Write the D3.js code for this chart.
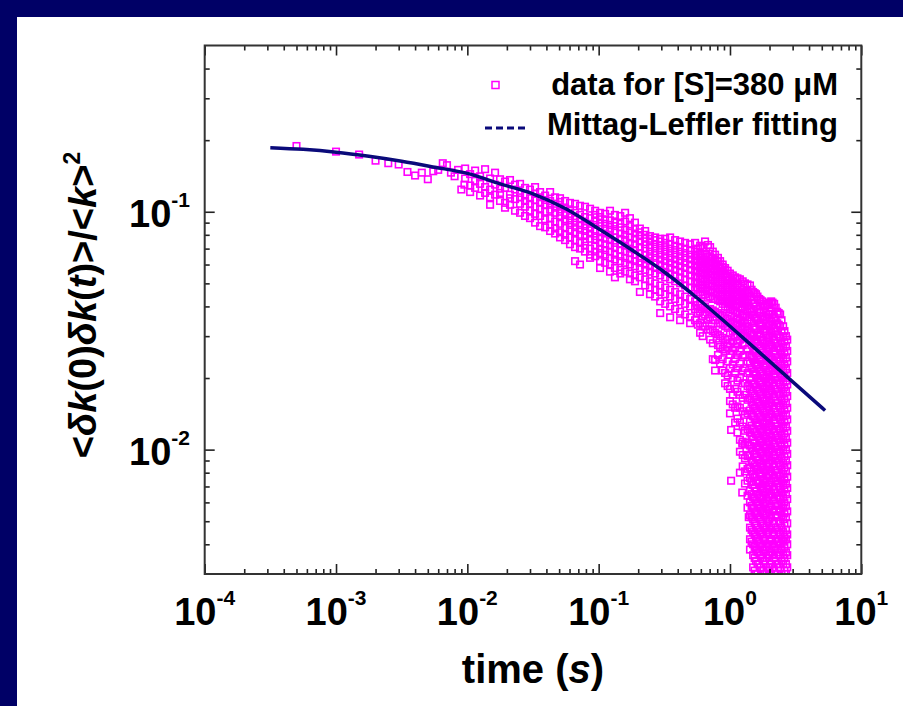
<!DOCTYPE html>
<html><head><meta charset="utf-8">
<script src="https://cdn.jsdelivr.net/npm/d3@7"></script>
<style>
body{margin:0;background:#fff;}
svg{display:block;}
text{font-family:"Liberation Sans",Arial,sans-serif;font-weight:bold;fill:#000;}
</style>
</head><body><svg id="c" width="903" height="706"></svg>
<script>
// ---------- data ----------
const xTickExps = [-4, -3, -2, -1, 0, 1];
const yTickExps = [-2, -1];
const xAxisTitle = "time";
const legendLabels = ["data for [S]=380 \u03BCM", "Mittag-Leffler fitting"];

// Mittag-Leffler fitting curve
const fitT = [0.000316, 0.000562, 0.001, 0.00178, 0.00316, 0.00562, 0.01, 0.0178, 0.0316, 0.0562, 0.1, 0.178, 0.316, 0.562, 1.0, 1.78, 3.16, 5.3];
const fitV = [0.186, 0.183, 0.178, 0.171, 0.163, 0.154, 0.145, 0.131, 0.119, 0.103, 0.0848, 0.0692, 0.0558, 0.0434, 0.0330, 0.0249, 0.0188, 0.0146];

// measured correlation data: [time, [values at that time]]
const scatterGroups = [
 [0.0005,[.189]],[0.001,[.179]],[0.0015,[.174]],[0.002,[.164]],[0.0025,[.160]],[0.003,[.158]],
 [0.0035,[.147]],[0.004,[.142]],[0.0045,[.146]],[0.005,[.137]],[0.0055,[.148]],[0.006,[.150]],
 [0.0065,[.160]],[0.007,[.157]],[0.0075,[.146]],[0.008,[.141]],[0.0085,[.150]],[0.009,[.124]],[0.0095,[.130]],
 [0.00962,[.152,.138]],
 [0.0105,[.144,.129,.121]],
 [0.01146,[.149,.135,.126]],
 [0.0125,[.141,.131,.117]],
 [0.01365,[.151,.127,.120]],
 [0.0149,[.138,.124,.115,.107]],
 [0.01626,[.146,.130,.118]],
 [0.01774,[.137,.125,.111,.120]],
 [0.01936,[.134,.126,.109,.104]],
 [0.02113,[.136,.118,.107,.114]],
 [0.02307,[.130,.124,.113,.101]],
 [0.0252,[.131,.120,.108,.099,.115]],
 [0.0275,[.126,.117,.105,.111,.096]],
 [0.0300,[.124,.114,.101,.094,.108]],
 [0.0328,[.127,.112,.098,.090,.105,.119]],
 [0.0358,[.121,.109,.096,.087,.103,.115]],
 [0.0391,[.117,.107,.093,.086,.100,.112]],
 [0.0427,[.121,.111,.102,.094,.088,.107,.083]],
 [0.0466,[.115,.108,.099,.091,.085,.104,.081]],
 [0.0508,[.114,.105,.096,.089,.082,.100,.078,.110]],
 [0.0555,[.111,.103,.093,.086,.080,.098,.076,.091]],
 [0.0605,[.109,.101,.092,.084,.078,.096,.073,.088]],
 [0.0661,[.108,.099,.090,.082,.076,.094,.071,.086,.062]],
 [0.0721,[.106,.097,.088,.080,.074,.093,.070,.084,.060]],
 [0.0787,[.105,.095,.087,.079,.072,.091,.068,.083,.075]],
 [0.0860,[.103,.094,.085,.077,.070,.089,.066,.081,.064]],
 [0.0940,[.101,.092,.083,.076,.068,.088,.065,.079,.072,.097]],
 [0.1025,[.099,.090,.082,.074,.067,.087,.062,.078,.070,.095,.058]],
 [0.112,[.098,.089,.081,.073,.066,.085,.061,.077,.069,.093]],
 [0.122,[.101,.088,.080,.072,.064,.084,.060,.076,.068,.092,.056]],
 [0.133,[.097,.087,.078,.071,.063,.083,.058,.074,.066,.090,.053]],
 [0.146,[.096,.086,.077,.069,.062,.081,.057,.073,.065,.089,.055]],
 [0.159,[.099,.084,.076,.068,.061,.080,.056,.072,.064,.091]],
 [0.173,[.094,.083,.074,.067,.060,.078,.055,.070,.063,.087,.052]],
 [0.189,[.090,.081,.073,.066,.059,.077,.054,.069,.062,.085,.051]],
 [0.206,[.085,.079,.071,.064,.058,.075,.053,.067,.061,.082,.046]],
 [0.226,[.083,.077,.070,.063,.057,.073,.052,.066,.060,.080,.049]],
 [0.246,[.079,.075,.068,.062,.056,.071,.051,.065,.059,.077,.048,.045]],
 [0.269,[.078,.073,.067,.061,.055,.070,.050,.064,.058,.076,.047,.044]],
 [0.294,[.077,.072,.066,.060,.054,.069,.049,.063,.057,.075,.046,.042,.0375]],
 [0.321,[.077,.071,.065,.059,.053,.068,.048,.062,.056,.074,.045,.041]],
 [0.350,[.078,.070,.064,.058,.052,.067,.047,.061,.055,.073,.044,.040,.036]],
 [0.382,[.076,.069,.063,.057,.051,.066,.046,.060,.054,.072,.043,.039]],
 [0.417,[.075,.068,.062,.056,.050,.065,.045,.059,.053,.071,.042,.038,.035]],
 [0.455,[.074,.067,.061,.055,.049,.064,.044,.058,.052,.070,.041,.037]],
 [0.497,[.073,.066,.060,.054,.048,.063,.043,.057,.051,.069,.040,.036,.034]],
 [0.542,[.074,.065,.059,.053,.047,.062,.042,.056,.050,.068,.039,.035]],
 [0.57,[.070,.0625,.0565,.0505,.045,.0595,.0405,.0535,.048,.066,.0375,.0335]],
 [0.592,[.072,.064,.058,.052,.046,.061,.041,.055,.049,.067,.038,.034,.031]],
 [0.62,[.071,.0615,.0555,.0495,.0445,.0585,.0395,.0525,.0475,.065,.0365,.033,.030]],
 [0.646,[.075,.063,.057,.051,.045,.060,.040,.054,.048,.066,.037,.033]],
 [0.68,[.0725,.061,.055,.049,.0435,.058,.039,.052,.0465,.0645,.0355,.032]],
 [0.706,[.071,.062,.056,.050,.044,.059,.039,.053,.047,.065,.036,.032,.029]],
 [0.74,[.068,.0605,.0545,.0485,.043,.0575,.0385,.0515,.046,.0635,.035,.0315,.028,.024]],
 [0.77,[.066,.060,.054,.049,.043,.057,.038,.051,.046,.063,.035,.031,.0238,.0215]],
 [0.81,[.064,.059,.053,.0475,.0425,.056,.0375,.050,.045,.0615,.034,.0305,.0275,.025]],
 [0.841,[.062,.058,.052,.047,.042,.055,.037,.049,.044,.060,.034,.030,.027,.023]],
 [0.88,[.060,.0565,.051,.046,.041,.054,.0365,.048,.043,.0585,.0335,.0295,.0265,.024,.0215]],
 [0.918,[.058,.055,.050,.045,.040,.053,.036,.047,.042,.057,.033,.029,.026,.021,.019]],
 [0.96,[.0565,.0535,.049,.044,.0395,.0515,.0355,.046,.0415,.0325,.029,.027,.0235,.0205,.0185]],
 [1.00,[.055,.052,.048,.043,.039,.050,.035,.045,.041,.034,.031,.028,.025,.022,.018,.016,.0142]],
 [1.02,[.0121,.0074]],
 [1.05,[.054,.051,.047,.0425,.0385,.049,.0345,.0445,.0405,.0315,.0285,.026,.0228,.020,.017,.0155]],
 [1.094,[.053,.050,.046,.042,.038,.048,.034,.044,.040,.032,.030,.027,.024,.021,.018,.015,.013]],
 [1.14,[.0525,.049,.045,.041,.0375,.047,.0335,.043,.0355,.0305,.028,.025,.022,.0195,.0175,.0152,.0135,.0118]],
 [1.19,[.052,.048,.044,.040,.037,.046,.033,.042,.035,.031,.029,.026,.023,.020,.017,.015,.013,.011,.0098,.008]],
 [1.24,[.0106,.0066]],
 [1.25,[.051,.047,.0435,.0395,.0365,.0455,.0325,.0415,.0345,.030,.0275,.0245,.0215,.019,.0165,.0145,.0125,.0108,.0095,.0085]],
 [1.30,[.050,.046,.043,.039,.036,.045,.032,.041,.034,.030,.028,.025,.022,.019,.017,.014,.012,.0105,.0092,.0081,.0072]],
 [1.36,[.0495,.0455,.042,.038,.035,.044,.0315,.040,.033,.0295,.0265,.0235,.021,.0185,.0162,.0142,.0122,.0107,.0094,.0083,.0074,.0064,.0057]],
 [1.39,[.0052]],
 [1.42,[.049,.044,.039,.036,.031,.029,.025,.023,.020,.018,.0165,.0146,.0131,.0118,.0104,.0095,.0084,.0076,.0067,.006,.0053,.0047,.0042,.0038]],
 [1.46,[.047,.0425,.038,.0345,.0305,.0275,.0245,.022,.0196,.0176,.0158,.014,.0126,.0113,.0101,.009,.0081,.0073,.0065,.0058,.0052,.0046,.0041]],
 [1.50,[.046,.041,.037,.033,.030,.026,.024,.0212,.019,.0172,.0153,.0138,.0122,.011,.0099,.0088,.0079,.0071,.0063,.0057,.0051,.0045,.004,.0036,.0032]],
 [1.54,[.0455,.041,.036,.0325,.029,.0262,.0232,.0209,.0188,.0168,.015,.0134,.0119,.0107,.0096,.0086,.0077,.0069,.0062,.0055,.0049,.0044,.0039,.0035,.0031,.0028]],
 [1.58,[.045,.040,.0355,.032,.0285,.0255,.0228,.0205,.0183,.0162,.0146,.0129,.0116,.0103,.0093,.0083,.0074,.0067,.006,.0054,.0048,.0043,.0038,.0034,.003,.0027]],
 [1.62,[.044,.039,.035,.031,.0278,.0249,.0223,.020,.0179,.0159,.0143,.0127,.0114,.0102,.0091,.0082,.0073,.0065,.0059,.0053,.0047,.0042,.0037,.0033,.003,.0027]],
 [1.67,[.043,.038,.034,.0305,.0272,.0243,.0218,.0195,.0175,.0156,.014,.0125,.0112,.010,.009,.008,.0072,.0064,.0058,.0052,.0046,.0041,.0037,.0033,.0029]],
 [1.71,[.0425,.0375,.0335,.0298,.0266,.0239,.0213,.0191,.0171,.0153,.0137,.0122,.011,.0098,.0088,.0079,.007,.0063,.0057,.0051,.0045,.004,.0036,.0032,.0028]],
 [1.76,[.042,.0365,.033,.029,.026,.0235,.0208,.0187,.0166,.0149,.0133,.0119,.0107,.0096,.0086,.0077,.0069,.0062,.0055,.0049,.0044,.0039,.0035,.0031,.0028]],
 [1.80,[.041,.0362,.0322,.0286,.0255,.023,.0204,.0183,.0163,.0146,.013,.0116,.0104,.0094,.0084,.0075,.0067,.006,.0054,.0048,.0043,.0038,.0034,.0031,.0027]],
 [1.85,[.040,.0355,.0315,.028,.025,.0225,.020,.018,.016,.0143,.0128,.0114,.0102,.0092,.0082,.0073,.0066,.0059,.0053,.0047,.0042,.0038,.0034,.003,.0027]],
 [1.90,[.0405,.036,.032,.0288,.0258,.023,.0206,.0185,.0165,.0147,.0132,.0118,.0105,.0094,.0085,.0076,.0068,.0061,.0054,.0048,.0044,.0039,.0035,.0031,.0028]],
 [1.95,[.041,.037,.033,.0295,.0265,.0238,.0212,.019,.017,.0152,.0136,.0121,.0108,.0097,.0087,.0078,.007,.0063,.0056,.005,.0045,.004,.0036,.0032,.0029]],
 [2.00,[.0415,.0372,.0335,.0302,.027,.0241,.0216,.0193,.0173,.0155,.0138,.0124,.011,.0099,.0088,.0079,.0071,.0064,.0057,.0051,.0046,.0041,.0036,.0032,.0029]],
 [2.06,[.042,.038,.0345,.031,.0275,.0245,.022,.0197,.0177,.0158,.0141,.0126,.0113,.0101,.009,.0081,.0073,.0065,.0058,.0052,.0047,.0042,.0037,.0033,.003,.0027]],
 [2.11,[.0415,.037,.0333,.0298,.0267,.0239,.0214,.0191,.0171,.0153,.0137,.0122,.0109,.0098,.0087,.0078,.007,.0063,.0056,.005,.0045,.004,.0036,.0032,.0029]],
 [2.17,[.041,.036,.0325,.029,.026,.0233,.0208,.0186,.0167,.0149,.0133,.0119,.0106,.0095,.0085,.0076,.0068,.0061,.0055,.0049,.0044,.0039,.0035,.0031,.0028]],
 [2.23,[.0395,.035,.0315,.0281,.0252,.0225,.0202,.018,.0161,.0144,.0129,.0115,.0103,.0092,.0082,.0074,.0066,.0059,.0053,.0047,.0042,.0038,.0034,.003,.0027]],
 [2.29,[.038,.034,.0305,.0272,.0244,.0218,.0196,.0175,.0157,.014,.0125,.0112,.010,.009,.008,.0072,.0064,.0058,.0052,.0046,.0041,.0037,.0033,.003,.0027]],
 [2.35,[.0375,.0335,.030,.0267,.024,.0214,.0192,.0171,.0153,.0137,.0122,.011,.0098,.0088,.0078,.007,.0063,.0056,.005,.0045,.0041,.0036,.0033,.0029]],
 [2.41,[.037,.033,.0295,.0262,.0235,.021,.0188,.0168,.015,.0134,.012,.0107,.0096,.0086,.0077,.0069,.0062,.0055,.0049,.0044,.004,.0036,.0032,.0029]],
 [2.47,[.035,.0314,.0281,.025,.0225,.0201,.018,.0161,.0144,.0128,.0115,.0103,.0092,.0082,.0074,.0066,.0059,.0053,.0047,.0042,.0038,.0034,.003,.0027]],
 [2.54,[.033,.0298,.0268,.024,.0215,.0192,.0172,.0154,.0138,.0123,.011,.0099,.0088,.0079,.0071,.0063,.0057,.0051,.0045,.0041,.0036,.0033,.0029,.0026]],
 [2.60,[.0315,.0285,.0256,.0229,.0205,.0183,.0164,.0147,.0131,.0117,.0105,.0094,.0084,.0075,.0068,.006,.0054,.0049,.0043,.0039,.0035,.0031,.0028]],
 [2.67,[.030,.0272,.0244,.0218,.0195,.0175,.0157,.014,.0125,.0112,.010,.009,.0081,.0072,.0065,.0058,.0052,.0046,.0042,.0037,.0033,.003,.0027]],
 [2.73,[.029,.026,.0235,.021,.0188,.0168,.015,.0134,.012,.0107,.0096,.0086,.0077,.0069,.0062,.0055,.0049,.0044,.004,.0036,.0032,.0029,.0026]]
];

// ---------- layout ----------
const W = 903, H = 706;
const plot = {left: 204.7, right: 861.3, top: 45.5, bottom: 574};
const svg = d3.select("#c");

// navy frame strips
svg.append("rect").attr("x",0).attr("y",0).attr("width",W).attr("height",17).attr("fill","#000066");
svg.append("rect").attr("x",0).attr("y",0).attr("width",17).attr("height",H).attr("fill","#000066");

const x = d3.scaleLog().domain([1e-4, 10]).range([plot.left, plot.right]);
const y = d3.scaleLog().domain([0.003, 0.5]).range([plot.bottom, plot.top]);

const xMajor = xTickExps.map(e => Math.pow(10, e));
const yMajor = yTickExps.map(e => Math.pow(10, e));
const minorOf = (lo, hi) => {
  const out = [];
  for (let d = Math.floor(Math.log10(lo)); d <= Math.ceil(Math.log10(hi)); d++)
    for (let m = 2; m <= 9; m++) { const v = m * Math.pow(10, d); if (v > lo*1.0001 && v < hi*0.9999) out.push(v); }
  return out;
};
const xMinor = minorOf(1e-4, 10);
const yMinor = minorOf(0.003, 0.5);

// clip
svg.append("clipPath").attr("id","clip").append("rect")
  .attr("x",plot.left).attr("y",plot.top).attr("width",plot.right-plot.left).attr("height",plot.bottom-plot.top);

// scatter points
const pts = [];
scatterGroups.forEach(([t, vs]) => vs.forEach(v => pts.push([t, v])));
const S = 6.5;
svg.append("g").attr("clip-path","url(#clip)").selectAll("rect").data(pts).join("rect")
  .attr("x", d => x(d[0]) - S/2).attr("y", d => y(d[1]) - S/2)
  .attr("width", S).attr("height", S)
  .attr("fill","none").attr("stroke","#ff00ff").attr("stroke-width",1.6);

// fit curve
const line = d3.line().x((d,i) => x(fitT[i])).y((d,i) => y(fitV[i])).curve(d3.curveMonotoneX);
svg.append("path").datum(fitT).attr("d", line)
  .attr("fill","none").attr("stroke","#0a0a7a").attr("stroke-width",3.5).attr("clip-path","url(#clip)");

// axes (inward ticks on all four sides)
function styleAxis(g){ g.select(".domain").remove(); g.selectAll(".tick line").attr("stroke","#222").attr("stroke-width",1.6); g.selectAll(".tick text").remove(); }
const mk = (axisFn, scale, vals, size, tr) => svg.append("g").attr("transform", tr)
  .call(axisFn(scale).tickValues(vals).tickSize(-size).tickFormat("")).call(styleAxis);
mk(d3.axisBottom, x, xMajor, 10, `translate(0,${plot.bottom})`);
mk(d3.axisBottom, x, xMinor, 5, `translate(0,${plot.bottom})`);
mk(d3.axisTop, x, xMajor, 10, `translate(0,${plot.top})`);
mk(d3.axisTop, x, xMinor, 5, `translate(0,${plot.top})`);
mk(d3.axisLeft, y, yMajor, 10, `translate(${plot.left},0)`);
mk(d3.axisLeft, y, yMinor, 5, `translate(${plot.left},0)`);
mk(d3.axisRight, y, yMajor, 10, `translate(${plot.right},0)`);
mk(d3.axisRight, y, yMinor, 5, `translate(${plot.right},0)`);

svg.append("rect").attr("x",plot.left).attr("y",plot.top).attr("width",plot.right-plot.left).attr("height",plot.bottom-plot.top)
  .attr("fill","none").attr("stroke","#333").attr("stroke-width",2);

// tick labels
xTickExps.forEach(e => {
  const t = svg.append("text").attr("x", x(Math.pow(10,e))).attr("y", 625).attr("text-anchor","middle").style("font-size","38px");
  t.append("tspan").text("10");
  t.append("tspan").attr("dy",-20).style("font-size","21px").text(e);
});
yTickExps.forEach(e => {
  const t = svg.append("text").attr("x", 190).attr("y", y(Math.pow(10,e)) + 15).attr("text-anchor","end").style("font-size","38px");
  t.append("tspan").text("10");
  t.append("tspan").attr("dy",-20).style("font-size","21px").text(e);
});

// x title
const xt = svg.append("text").attr("x", (plot.left+plot.right)/2).attr("y", 683).attr("text-anchor","middle").style("font-size","40px");
xt.append("tspan").text(xAxisTitle + " (");
xt.append("tspan").style("font-style","italic").text("s");
xt.append("tspan").text(")");

// y title
const yt = svg.append("text").attr("transform","translate(96,305) rotate(-90)").attr("text-anchor","middle").style("font-size","38px");
const parts = [["<",0],["\u03B4k",1],["(0)",0],["\u03B4k",1],["(",0],["t",1],[")>/<",0],["k",1],[">",0]];
parts.forEach(([s,it]) => yt.append("tspan").style("font-style", it ? "italic" : "normal").text(s));
yt.append("tspan").attr("dy",-16).style("font-size","23px").text("2");

// legend
svg.append("rect").attr("x",495.5-3.5).attr("y",85-3.5).attr("width",7).attr("height",7)
  .attr("fill","none").attr("stroke","#ff00ff").attr("stroke-width",1.5);
svg.append("text").attr("x",838).attr("y",95).attr("text-anchor","end").style("font-size","31px").text(legendLabels[0]);
svg.append("line").attr("x1",485).attr("x2",526).attr("y1",128).attr("y2",128)
  .attr("stroke","#0a0a7a").attr("stroke-width",3).attr("stroke-dasharray","7,4");
svg.append("text").attr("x",838).attr("y",135).attr("text-anchor","end").style("font-size","31px").text(legendLabels[1]);
</script>
</body></html>
